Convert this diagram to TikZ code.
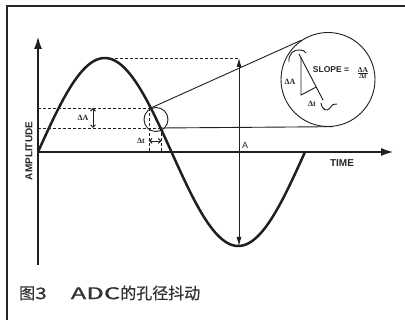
\documentclass[tikz,border=0pt]{standalone}
\usepackage{fontspec}
\setmainfont{Liberation Serif}
\setsansfont{Liberation Sans}
\newfontfamily\cjk[FakeBold=0.6]{Noto Sans CJK SC}
\usetikzlibrary{arrows.meta,calc}
\tikzset{
  ink/.style={draw=black!88},
  curve/.style={ink,line width=2.5pt},
  axis/.style={ink,line width=1.1pt},
  guide/.style={ink,line width=0.9pt,dash pattern=on 3pt off 2pt},
  thin/.style={ink,line width=0.9pt},
  bigtip/.style={-{Latex[length=12pt,width=8pt]}},
  dimarrow/.style={{Latex[length=9pt,width=5pt]}-{Latex[length=9pt,width=5pt]}},
  smallarrow/.style={{Straight Barb[length=2.5pt,width=5pt]}-{Straight Barb[length=2.5pt,width=5pt]}},
  lbl/.style={font=\sffamily\bfseries\fontsize{10}{10}\selectfont,text=black!85,inner sep=0pt},
  glbl/.style={font=\bfseries\fontsize{8}{8}\selectfont,text=black!85,inner sep=0pt},
}
\begin{document}
\begin{tikzpicture}[x=1pt,y=-1pt]
\useasboundingbox (0,0) rectangle (405,320);
\fill[white] (0,0) rectangle (405,320);
% frame
\draw[draw=black!85,line width=2.2pt] (7,320) -- (7,6) -- (405,6);
% coordinates
\coordinate (O) at (38,152);
\coordinate (Ytop) at (38,37);
\coordinate (Ybot) at (38,265);
\coordinate (Xend) at (393,152);
\coordinate (L1) at (38,108);
\coordinate (L2) at (38,128);
\coordinate (P1) at (150.8,108);
\coordinate (P2) at (160.5,128);
\coordinate (Pk) at (104.75,58);
\coordinate (Atop) at (239,58);
\coordinate (Abot) at (239,246);
\coordinate (V1t) at (149,108);
\coordinate (V1b) at (149,152);
\coordinate (V2t) at (161.5,128);
\coordinate (V2b) at (161.5,152);
\coordinate (dAt) at (93,108);
\coordinate (dAb) at (93,128);
\coordinate (dTl) at (149,141);
\coordinate (dTr) at (161.5,141);
% axes
\draw[axis] (Ybot) -- (O);
\draw[axis,bigtip] (O) -- (Ytop);
\draw[axis,bigtip] (O) -- (Xend);
% guides
\draw[guide] (L1) -- (P1);
\draw[guide] (L2) -- (P2);
\draw[guide] (Pk) -- (Atop);
\draw[guide] (V1t) -- (V1b);
\draw[guide] (V2t) -- (V2b);
% circles
\node[circle,thin,minimum size=24pt,inner sep=0pt] (sc) at (156,119.5) {};
\node[circle,thin,minimum size=94pt,inner sep=0pt] (bc) at (328,79.5) {};
\draw[thin] (P1) -- (bc.124);
\draw[thin] (P2) -- (bc.-84);
% sine
\draw[curve] plot[domain=0:360,samples=160,smooth] ({38+0.741667*\x},{152-94*sin(\x)});
% amplitude arrow
\draw[thin,dimarrow] (Atop) -- (Abot);
\draw[thin,smallarrow] (dAt) -- (dAb);
\draw[thin,smallarrow] (dTl) -- (dTr);
% labels
\node[lbl,rotate=90] (amp) at (29,151) {AMPLITUDE};
\node[lbl] (time) at (342,163) {TIME};
\node[lbl,font=\sffamily\fontsize{9}{9}\selectfont] (alab) at (245,145) {A};
\node[glbl] (dalab) at (83,118) {ΔA};
\node[glbl] (dtlab) at (141,141) {Δt};
% magnified view
\coordinate (T1) at (299,54);
\coordinate (T2) at (323,100);
\coordinate (Tv) at (301,57);
\coordinate (Tc) at (301,95);
\draw[thin] (T1) -- (T2);
\draw[thin] (Tv) -- (Tc) -- ($(T1)!(Tc)!(T2)$);
\draw[thin] (289,62) .. controls (288,54) and (294,49) .. (300,50) .. controls (303,50) and (305,51) .. (306,53);
\draw[thin] (321,103) .. controls (322,110) and (327,112) .. (330,108) .. controls (332,105) and (334,103) .. (337,104);
\node[glbl] (dalab2) at (290,82) {ΔA};
\node[glbl] (dtlab2) at (312,104) {Δt};
\node[lbl,font=\sffamily\bfseries\fontsize{8.5}{8.5}\selectfont] (slope) at (331,70) {SLOPE =};
\node[glbl,font=\bfseries\fontsize{7.5}{7.5}\selectfont] (frac) at (363,73) {$\frac{\hbox{ΔA}}{\hbox{Δt}}$};
% caption
\node[anchor=west,inner sep=0pt,text=black!80] (cap) at (19,293) {\cjk\fontsize{16}{16}\selectfont 图\scalebox{1.3}[1]{3}\hspace{24pt}\scalebox{1.6}[1]{ADC}的孔径抖动};
\end{tikzpicture}
\end{document}
